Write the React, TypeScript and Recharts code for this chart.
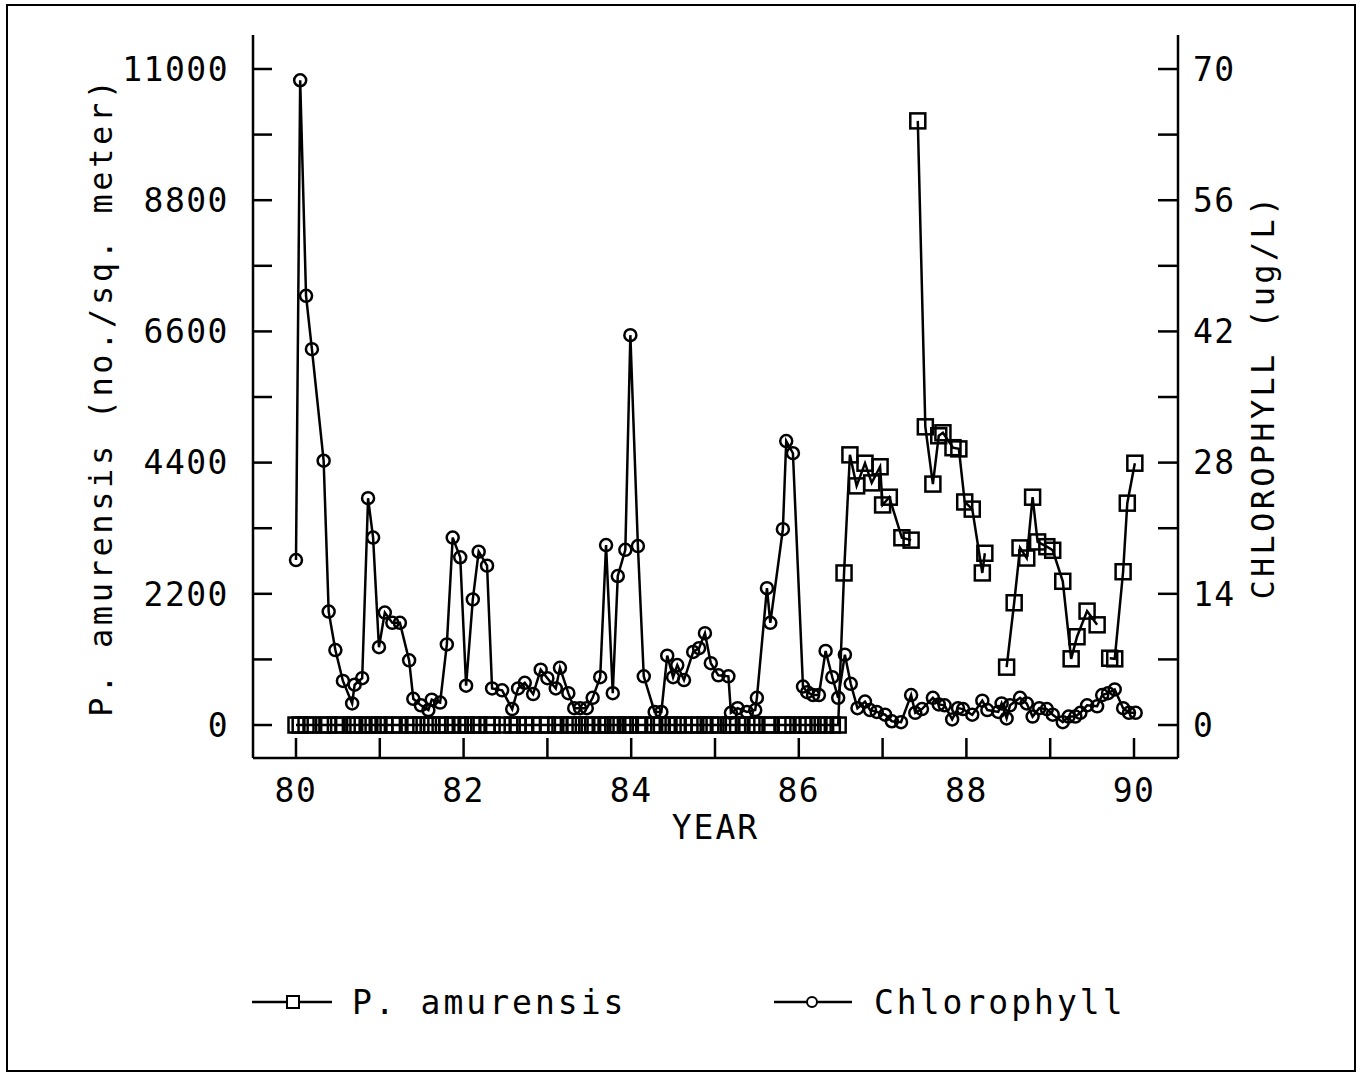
import React from 'react';
import {Label, Legend, Line, LineChart, XAxis, YAxis} from 'recharts';

const FONT = '"DejaVu Sans Mono", monospace';

// sampling dates (decimal year) and chlorophyll (ug/L)
const chlYears = [
    80.00, 80.05, 80.12, 80.19, 80.33, 80.39, 80.47, 80.56, 80.67, 80.70,
    80.79, 80.86, 80.92, 80.99, 81.06, 81.15, 81.24, 81.35, 81.40, 81.49,
    81.58, 81.62, 81.72, 81.80, 81.87, 81.96, 82.03, 82.11, 82.18, 82.28,
    82.34, 82.46, 82.58, 82.65, 82.73, 82.83, 82.92, 83.00, 83.10, 83.15,
    83.25, 83.32, 83.39, 83.47, 83.54, 83.63, 83.70, 83.78, 83.84, 83.93,
    83.99, 84.08, 84.15, 84.28, 84.36, 84.43, 84.50, 84.55, 84.63, 84.74,
    84.81, 84.88, 84.95, 85.04, 85.16, 85.19, 85.27, 85.38, 85.48, 85.50,
    85.62, 85.66, 85.81, 85.85, 85.93, 86.05, 86.10, 86.17, 86.24, 86.32,
    86.40, 86.47, 86.55, 86.62, 86.70, 86.79, 86.85, 86.93, 87.03, 87.11,
    87.22, 87.34, 87.39, 87.47, 87.60, 87.67, 87.74, 87.83, 87.90, 87.96,
    88.07, 88.19, 88.25, 88.38, 88.42, 88.48, 88.52, 88.64, 88.72, 88.79,
    88.87, 88.96, 89.03, 89.15, 89.22, 89.30, 89.36, 89.44, 89.56, 89.62,
    89.69, 89.77, 89.87, 89.94, 90.02,
];
const chlValues = [
    17.6, 68.8, 45.8, 40.1, 28.2, 12.1, 8.0, 4.7, 2.3, 4.3,
    5.0, 24.2, 20.0, 8.3, 12.0, 10.9, 10.9, 6.9, 2.8, 2.1,
    1.6, 2.7, 2.4, 8.6, 20.0, 17.9, 4.2, 13.4, 18.5, 17.0,
    3.9, 3.7, 1.7, 3.9, 4.5, 3.3, 5.9, 5.0, 3.9, 6.1,
    3.4, 1.8, 1.8, 1.8, 2.9, 5.1, 19.2, 3.4, 15.9, 18.7,
    41.6, 19.1, 5.2, 1.4, 1.4, 7.4, 5.1, 6.4, 4.8, 7.8,
    8.2, 9.8, 6.6, 5.3, 5.2, 1.3, 1.8, 1.4, 1.6, 2.9,
    14.6, 10.9, 20.9, 30.3, 29.0, 4.1, 3.5, 3.2, 3.2, 7.9,
    5.1, 2.9, 7.5, 4.4, 1.8, 2.5, 1.6, 1.4, 1.1, 0.4,
    0.3, 3.2, 1.3, 1.7, 2.9, 2.2, 2.1, 0.6, 1.8, 1.7,
    1.1, 2.6, 1.6, 1.4, 2.3, 0.7, 2.1, 2.9, 2.3, 0.9,
    1.8, 1.7, 1.1, 0.3, 0.9, 0.9, 1.3, 2.1, 2.0, 3.2,
    3.4, 3.8, 1.8, 1.3, 1.3,
];

// P. amurensis (no./sq. meter); null = no sample, line breaks there
const ampYears = [
    80.00, 80.05, 80.12, 80.19, 80.33, 80.39, 80.47, 80.56, 80.67, 80.70,
    80.79, 80.86, 80.92, 80.99, 81.06, 81.15, 81.24, 81.35, 81.40, 81.49,
    81.58, 81.62, 81.72, 81.80, 81.87, 81.96, 82.03, 82.11, 82.18, 82.28,
    82.34, 82.46, 82.58, 82.65, 82.73, 82.83, 82.92, 83.00, 83.10, 83.15,
    83.25, 83.32, 83.39, 83.47, 83.54, 83.63, 83.70, 83.78, 83.84, 83.93,
    83.99, 84.08, 84.15, 84.28, 84.36, 84.43, 84.50, 84.55, 84.63, 84.74,
    84.81, 84.88, 84.95, 85.04, 85.16, 85.19, 85.27, 85.38, 85.48, 85.50,
    85.62, 85.66, 85.81, 85.85, 85.93, 86.05, 86.10, 86.17, 86.24, 86.32,
    86.40, 86.47,
    86.54, 86.61, 86.69, 86.79, 86.87, 86.97, 87.00, 87.08, 87.23, 87.34,
    87.38, 87.42, 87.51, 87.60, 87.67, 87.72, 87.84, 87.91, 87.98, 88.07,
    88.19, 88.22, 88.35, 88.48, 88.57, 88.64, 88.72, 88.79, 88.85, 88.96,
    89.03, 89.15, 89.25, 89.32, 89.44, 89.56, 89.64, 89.71, 89.77, 89.87,
    89.92, 90.01,
];
const ampValues = [
    0, 0, 0, 0, 0, 0, 0, 0, 0, 0,
    0, 0, 0, 0, 0, 0, 0, 0, 0, 0,
    0, 0, 0, 0, 0, 0, 0, 0, 0, 0,
    0, 0, 0, 0, 0, 0, 0, 0, 0, 0,
    0, 0, 0, 0, 0, 0, 0, 0, 0, 0,
    0, 0, 0, 0, 0, 0, 0, 0, 0, 0,
    0, 0, 0, 0, 0, 0, 0, 0, 0, 0,
    0, 0, 0, 0, 0, 0, 0, 0, 0, 0,
    0, 0,
    2550, 4530, 4010, 4390, 4060, 4330, 3690, 3820, 3140, 3100,
    null, 10130, 5000, 4040, 4850, 4900, 4650, 4630, 3740, 3620,
    2550, 2880, null, 970, 2050, 2970, 2800, 3820, 3070, 2990,
    2930, 2410, 1110, 1480, 1910, 1680, null, 1120, 1110, 2570,
    3720, 4390,
];

const yearTicks = [80, 81, 82, 83, 84, 85, 86, 87, 88, 89, 90];
const ampTicks = [0, 1100, 2200, 3300, 4400, 5500, 6600, 7700, 8800, 9900, 11000];
const chlTicks = [0, 7, 14, 21, 28, 35, 42, 49, 56, 63, 70];

const chlData = chlYears.map((year, i) => ({year, chl: chlValues[i]}));
const ampData = ampYears.map((year, i) => ({year, amp: ampValues[i]}));

const textStyle = {fontFamily: FONT, fontSize: 33, fill: '#000'};

const LeftTick = ({x, y, payload}: any) => (
    <g>
        <line x1={x} x2={x + 19} y1={y} y2={y} stroke="#000" strokeWidth={2.5}/>
        {payload.value % 2200 === 0 && (
            <text x={x - 24} y={y} dy="0.36em" textAnchor="end" style={{...textStyle, letterSpacing: 1.5}}>
                {payload.value}
            </text>
        )}
    </g>
);

const RightTick = ({x, y, payload}: any) => (
    <g>
        <line x1={x - 20} x2={x} y1={y} y2={y} stroke="#000" strokeWidth={2.5}/>
        {payload.value % 14 === 0 && (
            <text x={x + 15} y={y} dy="0.36em" textAnchor="start" style={{...textStyle, letterSpacing: 1.5}}>
                {payload.value}
            </text>
        )}
    </g>
);

const BottomTick = ({x, y, payload}: any) => (
    <g>
        <line x1={x} x2={x} y1={y - 20} y2={y} stroke="#000" strokeWidth={2.5}/>
        {payload.value % 2 === 0 && (
            <text x={x} y={y + 32} dy="0.36em" textAnchor="middle" style={{...textStyle, letterSpacing: 1.5}}>
                {payload.value}
            </text>
        )}
    </g>
);

const SquareDot = (props: any) => {
    const {cx, cy, index} = props;
    if (cx == null || cy == null) return <g key={`s${index}`}/>;
    return <rect key={`s${index}`} x={cx - 7.5} y={cy - 7.5} width={15} height={15} fill="none" stroke="#000" strokeWidth={2.5}/>;
};

const CircleDot = (props: any) => {
    const {cx, cy, index} = props;
    if (cx == null || cy == null) return <g key={`c${index}`}/>;
    return <circle key={`c${index}`} cx={cx} cy={cy} r={6} fill="none" stroke="#000" strokeWidth={2.5}/>;
};

const renderLegend = () => (
    <div style={{position: 'relative', height: 46, fontFamily: FONT, fontSize: 33, letterSpacing: 3, color: '#000'}}>
        <div style={{position: 'absolute', left: 252, top: 0, display: 'flex', alignItems: 'center', height: 46}}>
            <svg width={80} height={46}>
                <line x1={0} x2={80} y1={23} y2={23} stroke="#000" strokeWidth={2.5}/>
                <rect x={35} y={17} width={12} height={12} fill="#fff" stroke="#000" strokeWidth={2}/>
            </svg>
            <span style={{marginLeft: 20}}>P. amurensis</span>
        </div>
        <div style={{position: 'absolute', left: 774, top: 0, display: 'flex', alignItems: 'center', height: 46}}>
            <svg width={78} height={46}>
                <line x1={0} x2={78} y1={23} y2={23} stroke="#000" strokeWidth={2.5}/>
                <circle cx={38} cy={23} r={5} fill="#fff" stroke="#000" strokeWidth={2}/>
            </svg>
            <span style={{marginLeft: 22}}>Chlorophyll</span>
        </div>
    </div>
);

const LeftTitle = ({viewBox}: any) => {
    const cx = viewBox.x + 17;
    const cy = viewBox.y + viewBox.height / 2;
    return (
        <text x={cx} y={cy} dy="0.36em" textAnchor="middle" transform={`rotate(-90, ${cx}, ${cy})`}
              style={{...textStyle, fontSize: 32, letterSpacing: 3.6}}>
            P. amurensis (no./sq. meter)
        </text>
    );
};

const RightTitle = ({viewBox}: any) => {
    const cx = viewBox.x + 84;
    const cy = viewBox.y + viewBox.height / 2;
    return (
        <text x={cx} y={cy} dy="0.36em" textAnchor="middle" transform={`rotate(-90, ${cx}, ${cy})`}
              style={{...textStyle, fontSize: 32, letterSpacing: 3.3}}>
            CHLOROPHYLL (ug/L)
        </text>
    );
};

const BottomTitle = ({viewBox}: any) => (
    <text x={viewBox.x + viewBox.width / 2} y={viewBox.y + 69} dy="0.36em" textAnchor="middle"
          style={{...textStyle, letterSpacing: 2}}>
        YEAR
    </text>
);

export default function App() {
    return (
        <div style={{position: 'absolute', left: 0, top: 0, width: 1364, height: 1073, background: '#fff'}}>
            <div style={{
                position: 'absolute', left: 6, top: 4, width: 1350, height: 1068,
                border: '2px solid #000', boxSizing: 'border-box'
            }}/>
            <LineChart width={1364} height={1073} margin={{top: 35, right: 36, bottom: 255, left: 83}}>
                <XAxis type="number" dataKey="year" domain={[79.487, 90.525]} allowDataOverflow
                       ticks={yearTicks} interval={0} height={60} tickSize={0} tickMargin={0} tickLine={false}
                       axisLine={{stroke: '#000', strokeWidth: 2.5}} tick={<BottomTick/>}>
                    <Label content={<BottomTitle/>}/>
                </XAxis>
                <YAxis yAxisId="amp" orientation="left" type="number" domain={[-553, 11570]} allowDataOverflow
                       ticks={ampTicks} interval={0} width={170} tickSize={0} tickMargin={0} tickLine={false}
                       axisLine={{stroke: '#000', strokeWidth: 2.5}} tick={<LeftTick/>}>
                    <Label content={<LeftTitle/>}/>
                </YAxis>
                <YAxis yAxisId="chl" orientation="right" type="number" domain={[-3.52, 73.63]} allowDataOverflow
                       ticks={chlTicks} interval={0} width={150} tickSize={0} tickMargin={0} tickLine={false}
                       axisLine={{stroke: '#000', strokeWidth: 2.5}} tick={<RightTick/>}>
                    <Label content={<RightTitle/>}/>
                </YAxis>
                <Legend layout="horizontal" verticalAlign="middle" align="center" content={renderLegend}
                        wrapperStyle={{top: 979, left: 0, width: 1364}}/>
                <Line yAxisId="amp" data={ampData} dataKey="amp" name="P. amurensis" type="linear"
                      stroke="#000" strokeWidth={2.5} dot={SquareDot} activeDot={false}
                      connectNulls={false} isAnimationActive={false}/>
                <Line yAxisId="chl" data={chlData} dataKey="chl" name="Chlorophyll" type="linear"
                      stroke="#000" strokeWidth={2.5} dot={CircleDot} activeDot={false}
                      isAnimationActive={false}/>
            </LineChart>
        </div>
    );
}
